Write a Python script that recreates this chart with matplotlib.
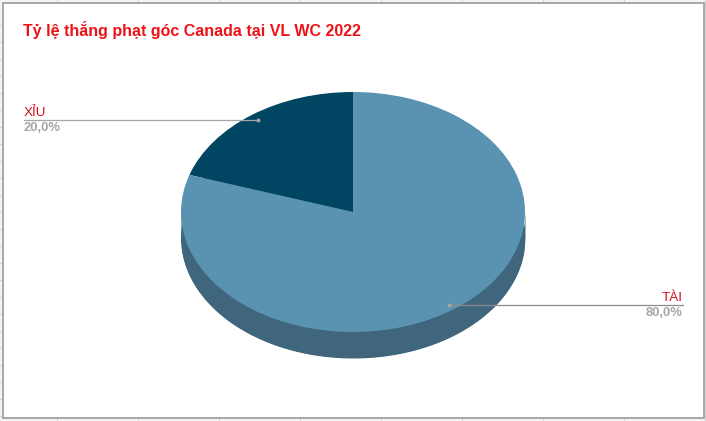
import numpy as np
import matplotlib
matplotlib.use('Agg')
import matplotlib.pyplot as plt

plt.rcParams['font.family'] = ['Liberation Sans', 'DejaVu Sans']

title = 'Tỷ lệ thắng phạt góc Canada tại VL WC 2022'
categories = ['XỈU', 'TÀI']
values = [20.0, 80.0]
slice_colors = ['#004663', '#5a93b1']
side_color = '#3f667c'
depth = 26 / 120  # pie thickness, in radii

W, H = 706, 421
fig = plt.figure(figsize=(W / 100, H / 100), dpi=100, facecolor='#f3f3f3')

# background in pixel coords: sheet grid, chart frame, title
bg = fig.add_axes([0, 0, 1, 1], zorder=0)
bg.set_xlim(0, W)
bg.set_ylim(H, 0)
bg.axis('off')
for x in np.arange(57, W, 81):
    bg.plot([x, x], [0, H], color='#d4d4d4', lw=0.8, zorder=1)
for y in np.arange(25, H, 17):
    bg.plot([0, W], [y, y], color='#d4d4d4', lw=0.8, zorder=1)
bg.add_patch(plt.Rectangle((2.5, 2.5), 701, 415, fc='white', ec='#a0a0a0', lw=1.3, zorder=2))

bg.text(23, 36, title, color='#ec1218', fontsize=11.55, fontweight='bold', va='baseline', ha='left', zorder=5)

# pie, squashed into an ellipse by its own axes
left, right, top, bottom = 181, 525, 92, 358
ax = fig.add_axes([left / W, 1 - bottom / H, (right - left) / W, (bottom - top) / H], zorder=1)
ax.patch.set_alpha(0)

ax.pie([sum(values)], colors=[side_color], startangle=90, center=(0, -depth), radius=1)
xs = np.linspace(-1, 1, 400)
lower = -np.sqrt(1 - xs ** 2)
ax.fill_between(xs, lower - depth, lower, color=side_color, lw=0)
ax.pie(values, colors=slice_colors, startangle=90, radius=1)
ax.set_aspect('auto')
ax.set_xlim(-1, 1)
ax.set_ylim(-1 - depth, 1)

# leader lines and labels
over = fig.add_axes([0, 0, 1, 1], zorder=2)
over.set_xlim(0, W)
over.set_ylim(H, 0)
over.axis('off')


def pct(v):
    return f'{v:.1f}%'.replace('.', ',')


over.plot([24, 258], [119.5, 119.5], color='#a6a6a6', lw=0.9)
over.plot([258], [119.5], 'o', color='#a6a6a6', ms=1.8)
over.text(24, 116, categories[0], color='#d0101c', fontsize=9.7, va='baseline', ha='left')
over.text(24, 131, pct(values[0]), color='#a6a6a6', fontsize=9.4,
          fontweight='bold', va='baseline', ha='left')

over.plot([449, 683], [304.5, 304.5], color='#8c8c8c', lw=0.9)
over.plot([449], [304.5], 'o', color='#a6a6a6', ms=1.8)
over.text(683, 301, categories[1], color='#d0101c', fontsize=9.7, va='baseline', ha='right')
over.text(683, 316, pct(values[1]), color='#a6a6a6', fontsize=9.4,
          fontweight='bold', va='baseline', ha='right')

fig.savefig('out.png', dpi=100, facecolor=fig.get_facecolor())
